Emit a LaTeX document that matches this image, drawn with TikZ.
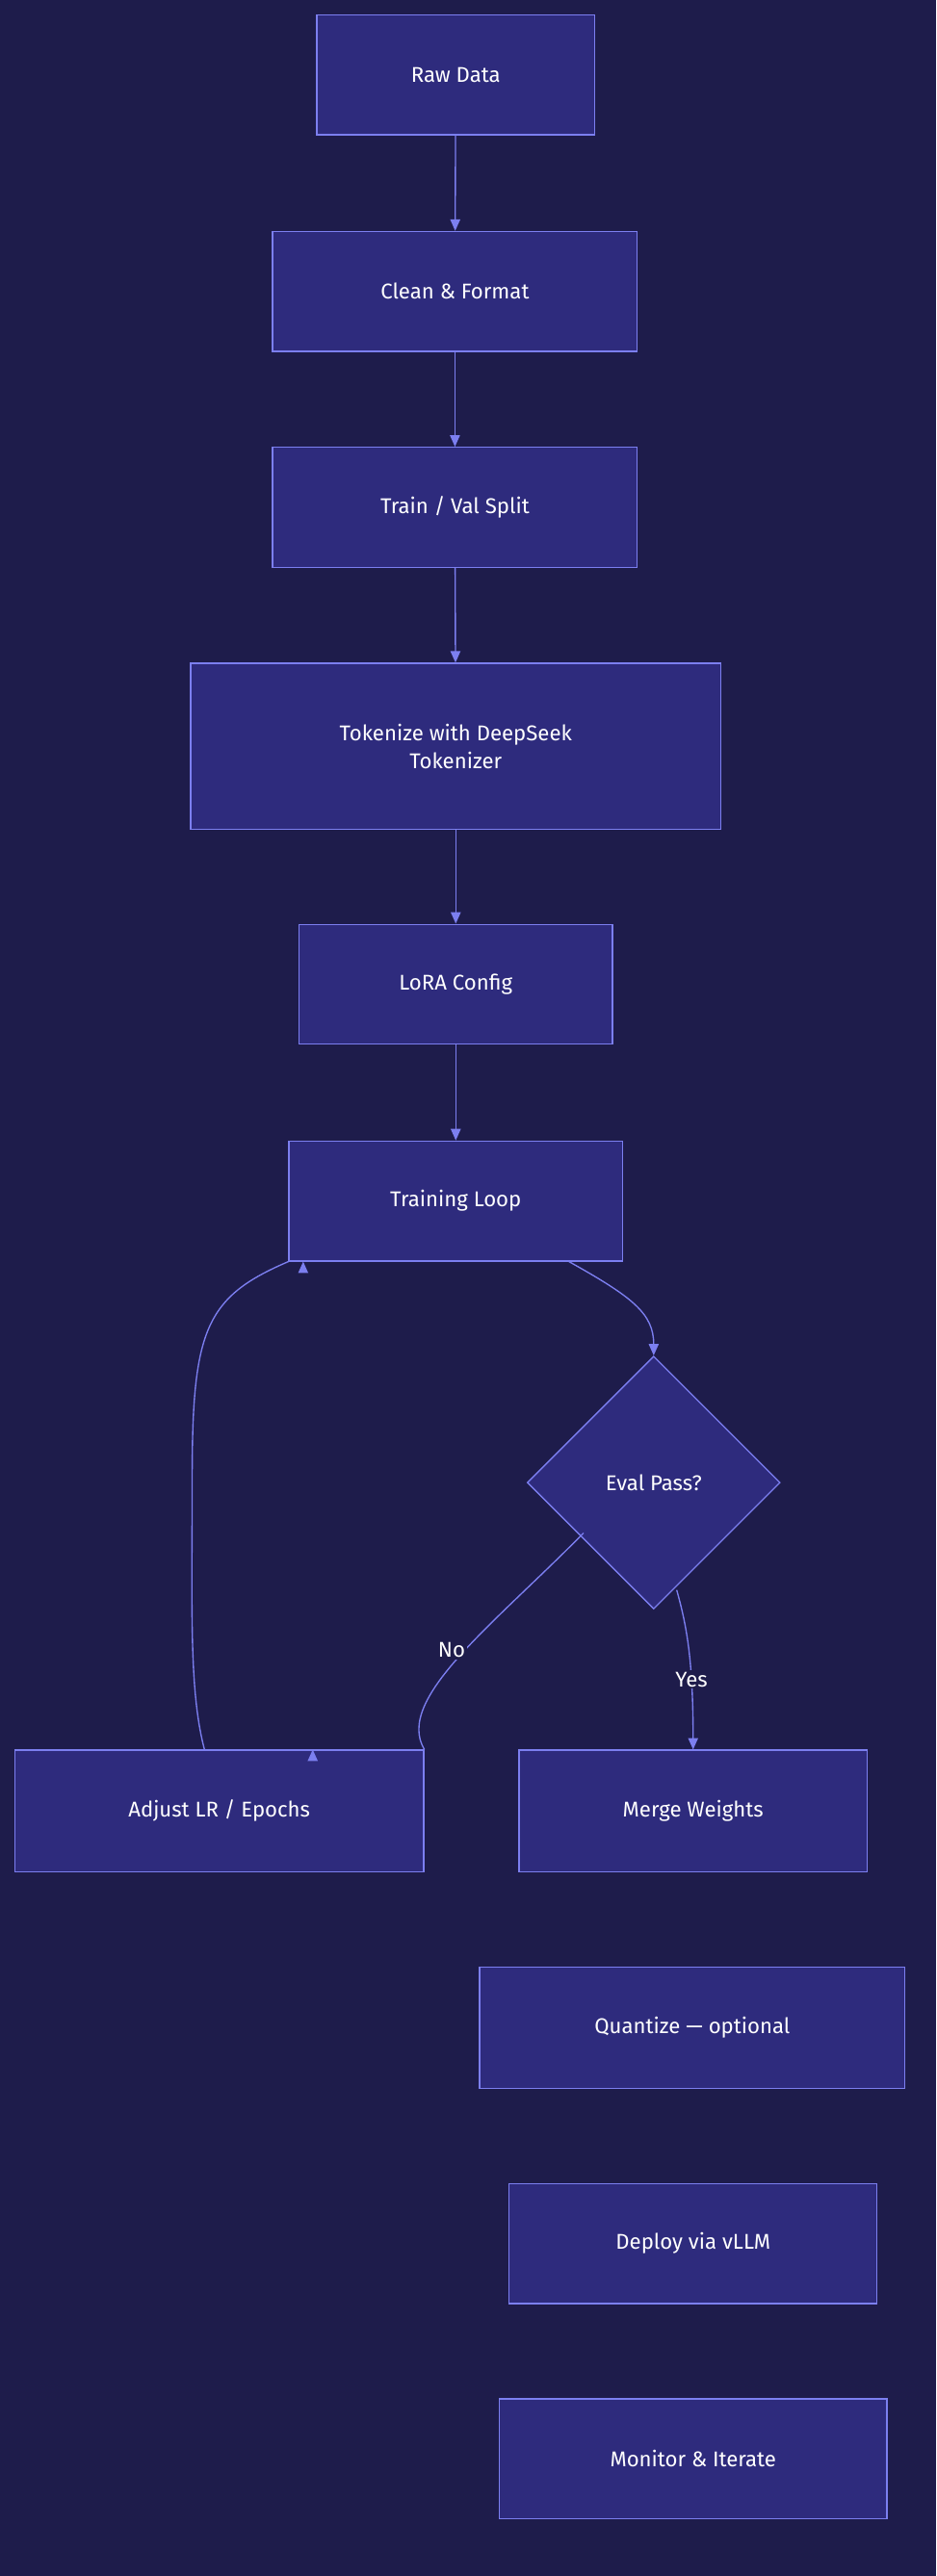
\documentclass[tikz,border=0pt]{standalone}
\usepackage{fontspec}
\setmainfont{Fira Sans}
\usetikzlibrary{shapes.geometric,arrows.meta}
\definecolor{bg}{RGB}{30,28,75}
\definecolor{nf}{RGB}{46,43,125}
\definecolor{nb}{RGB}{124,127,240}
\begin{document}
\begin{tikzpicture}[x=1pt,y=-1pt,
  box/.style={draw=nb,fill=nf,text=white,line width=0.8pt,inner sep=0pt,font=\fontsize{13}{17}\selectfont,align=center},
  dia/.style={draw=nb,fill=nf,text=white,line width=0.8pt,diamond,aspect=1,inner sep=0pt,minimum size=154pt,font=\fontsize{13}{17}\selectfont},
  ar/.style={draw=nb,line width=0.8pt,-{Triangle[length=7pt,width=6pt]}},
  lb/.style={fill=bg,text=white,font=\fontsize{13}{17}\selectfont,inner sep=1pt}]
\fill[bg] (0,0) rectangle (570,1569);
\useasboundingbox (0,0) rectangle (570,1569);
\node[box,minimum width=169pt,minimum height=73pt] (raw) at (277.5,45.5) {Raw Data};
\node[box,minimum width=222pt,minimum height=73pt] (clean) at (277,177.5) {Clean \& Format};
\node[box,minimum width=222pt,minimum height=73pt] (split) at (277,309) {Train / Val Split};
\node[box,minimum width=323pt,minimum height=101pt] (tok) at (277.5,454.5) {Tokenize with DeepSeek\\Tokenizer};
\node[box,minimum width=191pt,minimum height=73pt] (lora) at (277.5,599.5) {LoRA Config};
\node[box,minimum width=203pt,minimum height=73pt] (loop) at (277.5,731.5) {Training Loop};
\node[dia] (eval) at (398,903) {Eval Pass?};
\node[box,minimum width=249pt,minimum height=74pt] (adj) at (133.5,1103) {Adjust LR / Epochs};
\node[box,minimum width=212pt,minimum height=74pt] (merge) at (422,1103) {Merge Weights};
\node[box,minimum width=259pt,minimum height=74pt] (quant) at (421.5,1235) {Quantize — optional};
\node[box,minimum width=224pt,minimum height=73pt] (dep) at (422,1366.5) {Deploy via vLLM};
\node[box,minimum width=236pt,minimum height=73pt] (mon) at (422,1497.5) {Monitor \& Iterate};
\draw[ar] (raw) -- (clean);
\draw[ar] (clean) -- (split);
\draw[ar] (split) -- (tok);
\draw[ar] (tok) -- (lora);
\draw[ar] (lora) -- (loop);
\draw[ar] (loop.south east) ++(-33,0) coordinate (ls) .. controls (385,790) and (398,800) .. (eval.north);
\draw[ar] (eval.south west) ++(-4,-8) coordinate (es) .. controls (300,990) and (240,1035) .. (adj.north east) ++(-68,0) coordinate (dummy);
\draw[ar] (eval.south) ++(14,-12) coordinate (ey) .. controls (418,990) and (422,1010) .. (merge.north);
\node[lb] at (275,1005) {No};
\node[lb] at (421,1023) {Yes};
\draw[ar] (adj.north) ++(-9,0) coordinate (aa) .. controls (115,1030) and (117,980) .. (117,900) .. controls (117,810) and (125,790) .. (loop.south west) ++(9,0) coordinate (dd);
\end{tikzpicture}
\end{document}
